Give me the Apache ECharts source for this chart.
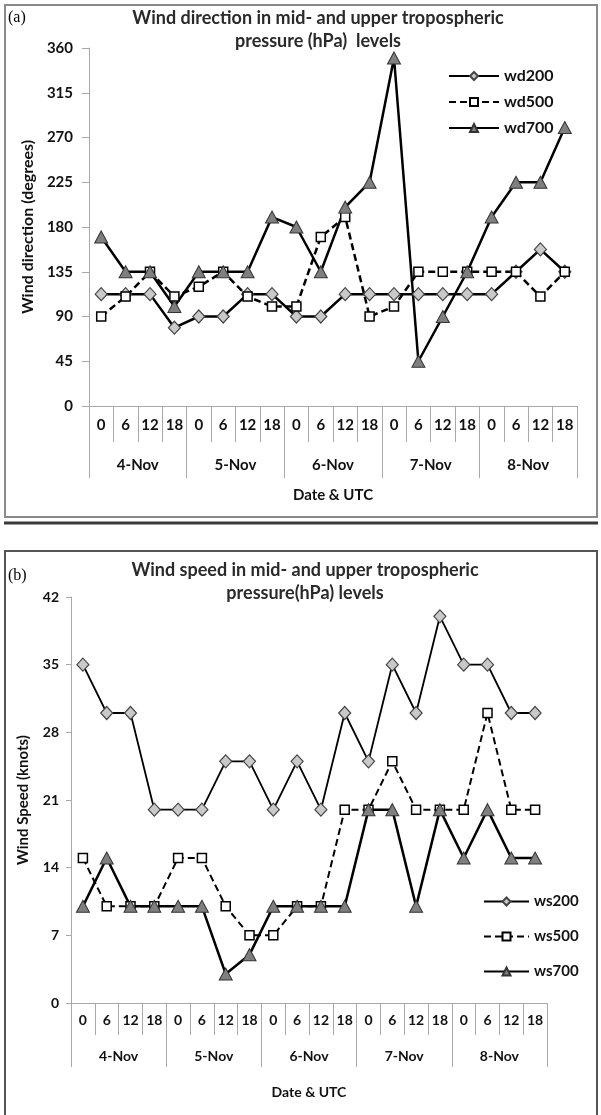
<!DOCTYPE html>
<html>
<head>
<meta charset="utf-8">
<script src="https://cdn.jsdelivr.net/npm/echarts@6/dist/echarts.min.js"></script>
<style>
  html, body { margin: 0; padding: 0; background: #fff; }
  #chart { width: 601px; height: 1115px; }
</style>
</head>
<body>
<div id="chart"></div>
<script>
  // axis labels
  var days = ['4-Nov', '5-Nov', '6-Nov', '7-Nov', '8-Nov'];
  var hours = ['0', '6', '12', '18'];
  var dirTicks = { min: 0, max: 360, interval: 45 };
  var speedTicks = { min: 0, max: 42, interval: 7 };

  // (a) wind direction, degrees
  var wd200 = [112.5, 112.5, 112.5, 78.75, 90, 90, 112.5, 112.5, 90, 90, 112.5, 112.5, 112.5, 112.5, 112.5, 112.5, 112.5, 135, 157.5, 135];
  var wd500 = [90, 110, 135, 110, 120, 135, 110, 100, 100, 170, 190, 90, 100, 135, 135, 135, 135, 135, 110, 135];
  var wd700 = [170, 135, 135, 100, 135, 135, 135, 190, 180, 135, 200, 225, 350, 45, 90, 135, 190, 225, 225, 280];

  // (b) wind speed, knots
  var ws200 = [35, 30, 30, 20, 20, 20, 25, 25, 20, 25, 20, 30, 25, 35, 30, 40, 35, 35, 30, 30];
  var ws500 = [15, 10, 10, 10, 15, 15, 10, 7, 7, 10, 10, 20, 20, 25, 20, 20, 20, 30, 20, 20];
  var ws700 = [10, 15, 10, 10, 10, 10, 3, 5, 10, 10, 10, 10, 20, 20, 10, 20, 15, 20, 15, 15];

  var categories = [];
  days.forEach(function (d) {
    hours.forEach(function (h) { categories.push(d + ' ' + h); });
  });

  var font = 'Lato, "Open Sans", sans-serif';
  var gray = '#a8a8a8';

  function hourAxis(grid, tickLen, margin, size) {
    return {
      type: 'category', gridIndex: grid, position: 'bottom', data: categories,
      axisLine: { lineStyle: { color: gray, width: 1 } },
      axisTick: { show: true, interval: 0, length: tickLen, lineStyle: { color: gray } },
      axisLabel: {
        interval: 0, margin: margin, color: '#111', fontFamily: font, fontWeight: 'bold', fontSize: size,
        formatter: function (v) { return v.split(' ')[1]; }
      },
      splitLine: { show: false }
    };
  }

  function dayAxis(grid, tickLen, margin, nameGap, size) {
    return {
      type: 'category', gridIndex: grid, position: 'bottom', data: days,
      axisLine: { show: false },
      axisTick: { show: true, interval: 0, length: tickLen, lineStyle: { color: gray } },
      axisLabel: { interval: 0, margin: margin, color: '#111', fontFamily: font, fontWeight: 'bold', fontSize: size },
      name: 'Date & UTC', nameLocation: 'middle', nameGap: nameGap,
      nameTextStyle: { color: '#111', fontFamily: font, fontWeight: 'bold', fontSize: size },
      splitLine: { show: false }
    };
  }

  function valueAxis(grid, t, name, nameGap, tickLen, margin, size, nameSize) {
    return {
      type: 'value', gridIndex: grid, min: t.min, max: t.max, interval: t.interval,
      axisLine: { show: true, lineStyle: { color: gray } },
      axisTick: { show: true, length: tickLen, lineStyle: { color: gray } },
      axisLabel: { margin: margin, color: '#111', fontFamily: font, fontWeight: 'bold', fontSize: size },
      splitLine: { show: false },
      name: name, nameLocation: 'middle', nameGap: nameGap, nameRotate: 90,
      nameTextStyle: { color: '#111', fontFamily: font, fontWeight: 'bold', fontSize: nameSize }
    };
  }

  function line(name, data, xi, yi, kind, width) {
    var s = {
      name: name, type: 'line', data: data, xAxisIndex: xi, yAxisIndex: yi,
      lineStyle: { color: '#000', width: width },
      showAllSymbol: true
    };
    if (kind === 'diamond') {
      s.symbol = 'diamond'; s.symbolSize = [12, 13];
      s.itemStyle = { color: '#c9c9c9', borderColor: '#444', borderWidth: 1.2 };
    } else if (kind === 'square') {
      s.symbol = 'rect'; s.symbolSize = 9;
      s.lineStyle.type = [7, 4];
      s.itemStyle = { color: '#fff', borderColor: '#000', borderWidth: 1.5 };
    } else {
      s.symbol = 'triangle'; s.symbolSize = [13, 12];
      s.itemStyle = { color: '#7f7f7f', borderColor: '#333', borderWidth: 1 };
    }
    return s;
  }

  var chart = echarts.init(document.getElementById('chart'), null, { renderer: 'canvas' });

  var option = {
    animation: false,
    backgroundColor: '#fff',
    grid: [
      { left: 89, top: 48, width: 488, height: 358 },
      { left: 71, top: 597, width: 476, height: 406 }
    ],
    xAxis: [
      hourAxis(0, 36, 12, 15),
      dayAxis(0, 72, 52, 82, 15),
      hourAxis(1, 32, 10, 14),
      dayAxis(1, 64, 46, 82, 14)
    ],
    yAxis: [
      valueAxis(0, dirTicks, 'Wind direction (degrees)', 50, 7, 16, 15, 16),
      valueAxis(1, speedTicks, 'Wind Speed (knots)', 40, 5, 12, 14, 15)
    ],
    legend: [
      {
        data: ['wd200', 'wd500', 'wd700'], orient: 'vertical', left: 443, top: 63,
        itemWidth: 50, itemHeight: 10, itemGap: 10,
        textStyle: { color: '#111', fontFamily: font, fontWeight: 'bold', fontSize: 16 }
      },
      {
        data: ['ws200', 'ws500', 'ws700'], orient: 'vertical', left: 478, top: 889,
        itemWidth: 45, itemHeight: 10, itemGap: 20,
        textStyle: { color: '#111', fontFamily: font, fontWeight: 'bold', fontSize: 15 }
      }
    ],
    graphic: [
      { type: 'rect', shape: { x: 5, y: 5, width: 592, height: 512 }, style: { fill: 'none', stroke: '#8a8a8a', lineWidth: 2 } },
      { type: 'line', shape: { x1: 4, y1: 523, x2: 598, y2: 523 }, style: { stroke: '#3a3a3a', lineWidth: 3 } },
      { type: 'rect', shape: { x: 5, y: 551, width: 592, height: 600 }, style: { fill: 'none', stroke: '#555', lineWidth: 2 } },
      { type: 'text', x: 8, y: 18, style: { text: '(a)', font: '16px "Liberation Serif", serif', fill: '#000', verticalAlign: 'middle' } },
      { type: 'text', x: 8, y: 576, style: { text: '(b)', font: '16px "Liberation Serif", serif', fill: '#000', verticalAlign: 'middle' } },
      { type: 'text', x: 318, y: 18, style: { text: 'Wind direction in mid- and upper tropospheric', font: 'bold 18px Lato, sans-serif', fill: '#2a2a2a', align: 'center', verticalAlign: 'middle' } },
      { type: 'text', x: 318, y: 41, style: { text: 'pressure (hPa)  levels', font: 'bold 18px Lato, sans-serif', fill: '#2a2a2a', align: 'center', verticalAlign: 'middle' } },
      { type: 'text', x: 305, y: 570, style: { text: 'Wind speed in mid- and upper tropospheric', font: 'bold 18px Lato, sans-serif', fill: '#2a2a2a', align: 'center', verticalAlign: 'middle' } },
      { type: 'text', x: 305, y: 593, style: { text: 'pressure(hPa) levels', font: 'bold 18px Lato, sans-serif', fill: '#2a2a2a', align: 'center', verticalAlign: 'middle' } }
    ],
    series: [
      line('wd200', wd200, 0, 0, 'diamond', 2.5),
      line('wd500', wd500, 0, 0, 'square', 2.5),
      line('wd700', wd700, 0, 0, 'triangle', 2.5),
      line('ws200', ws200, 2, 1, 'diamond', 1.8),
      line('ws500', ws500, 2, 1, 'square', 2),
      line('ws700', ws700, 2, 1, 'triangle', 2.5)
    ]
  };

  chart.setOption(option);
</script>
</body>
</html>
